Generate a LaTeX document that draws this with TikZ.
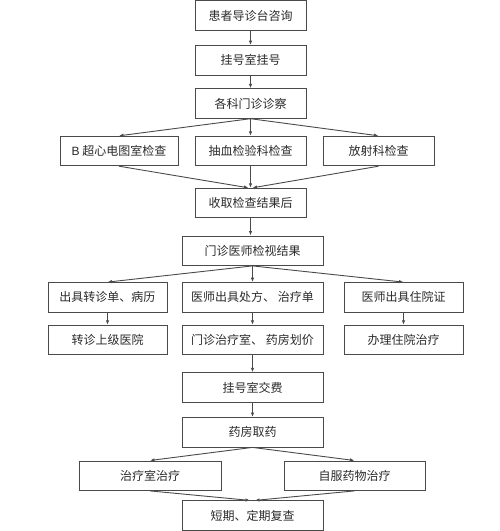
\documentclass[tikz,border=0pt]{standalone}
\usepackage{fontspec}
\setmainfont{Noto Sans CJK SC}
\newfontfamily\latinsans{Liberation Sans}
\usetikzlibrary{arrows.meta}
\definecolor{linec}{HTML}{4A4A4A}
\definecolor{textc}{HTML}{2A2A2A}
\tikzset{
  box/.style={draw=linec, line width=0.9pt, rectangle, inner sep=0pt, minimum height=29.5pt, text=textc, font=\fontsize{12}{14}\selectfont},
  arr/.style={draw=linec, line width=0.9pt, -{Latex[length=4.5pt,width=3.5pt]}}
}
\begin{document}
\begin{tikzpicture}[x=1pt,y=1pt]
\useasboundingbox (0,0) rectangle (500,-531);
\node[box, minimum width=111pt] (n1) at (250.5,-15.5) {患者导诊台咨询};
\node[box, minimum width=111pt] (n2) at (250.5,-60.3) {挂号室挂号};
\node[box, minimum width=111pt] (n3) at (250.5,-103.5) {各科门诊诊察};
\node[box, minimum width=118pt] (b1) at (119,-151) {{\latinsans B} 超心电图室检查};
\node[box, minimum width=111pt] (b2) at (250.5,-151) {抽血检验科检查};
\node[box, minimum width=111pt] (b3) at (378.5,-151) {放射科检查};
\node[box, minimum width=111pt] (n4) at (250.5,-203) {收取检查结果后};
\node[box, minimum width=141pt] (n5) at (252.5,-250.7) {门诊医师检视结果};
\node[box, minimum width=119pt] (c1) at (107.5,-297.3) {出具转诊单、病历};
\node[box, minimum width=141pt] (c2) at (252.5,-297.3) {医师出具处方、 治疗单};
\node[box, minimum width=119pt] (c3) at (403.5,-297.3) {医师出具住院证};
\node[box, minimum width=119pt] (d1) at (107.5,-340) {转诊上级医院};
\node[box, minimum width=141pt] (d2) at (252.5,-340) {门诊治疗室、 药房划价};
\node[box, minimum width=119pt] (d3) at (403.5,-340) {办理住院治疗};
\node[box, minimum width=141pt] (n6) at (252.5,-387.5) {挂号室交费};
\node[box, minimum width=141pt] (n7) at (252.5,-432.2) {药房取药};
\node[box, minimum width=142pt] (e1) at (150,-475.7) {治疗室治疗};
\node[box, minimum width=141pt] (e2) at (354.5,-475.7) {自服药物治疗};
\node[box, minimum width=141pt] (n8) at (252.5,-515.6) {短期、定期复查};
\draw[arr] (n1.south) -- (n2.north);
\draw[arr] (n2.south) -- (n3.north);
\draw[arr] (n3.south) -- (b1.north);
\draw[arr] (n3.south) -- (b2.north);
\draw[arr] (n3.south) -- (b3.north);
\draw[arr] (b1.south) -- ([xshift=-2pt]n4.north);
\draw[arr] (b2.south) -- (n4.north);
\draw[arr] (b3.south) -- ([xshift=2pt]n4.north);
\draw[arr] (n4.south) -- ([xshift=-2pt]n5.north);
\draw[arr] (n5.south) -- (c1.north);
\draw[arr] (n5.south) -- (c2.north);
\draw[arr] (n5.south) -- (c3.north);
\draw[arr] (c1.south) -- (d1.north);
\draw[arr] (c2.south) -- (d2.north);
\draw[arr] (c3.south) -- (d3.north);
\draw[arr] (d2.south) -- (n6.north);
\draw[arr] (n6.south) -- (n7.north);
\draw[arr] (n7.south) -- (e1.north);
\draw[arr] (n7.south) -- (e2.north);
\draw[arr] (e1.south) -- ([xshift=-2.5pt]n8.north);
\draw[arr] (e2.south) -- ([xshift=2.5pt]n8.north);
\end{tikzpicture}
\end{document}
